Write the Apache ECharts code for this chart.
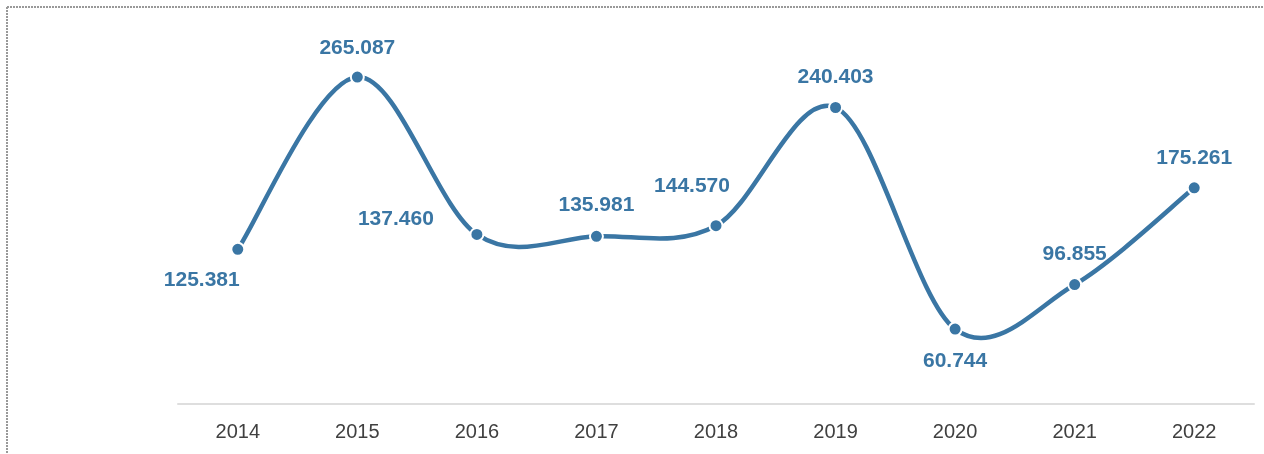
<!DOCTYPE html>
<html>
<head>
<meta charset="utf-8">
<script src="https://cdn.jsdelivr.net/npm/echarts@6/dist/echarts.min.js"></script>
<style>
html,body{margin:0;padding:0;background:#fff;}
#c{width:1264px;height:454px;}
</style>
</head>
<body>
<div id="c"></div>
<script>
var categories = ['2014','2015','2016','2017','2018','2019','2020','2021','2022'];
var values = [125.381, 265.087, 137.460, 135.981, 144.570, 240.403, 60.744, 96.855, 175.261];
var labelOffsets = [[-36,31],[0,-29],[-81,-15],[0,-31],[-24,-39],[0,-30],[0,32],[0,-30],[0,-30]];

var color = '#3a76a4';
var chart = echarts.init(document.getElementById('c'));

function renderSpline(params, api) {
  var i = params.dataIndex;
  var n = values.length;
  if (i >= n - 1) return null;
  function pt(k) {
    k = Math.max(0, Math.min(n - 1, k));
    return api.coord([k, values[k]]);
  }
  var p0 = pt(i - 1), p1 = pt(i), p2 = pt(i + 1), p3 = pt(i + 2);
  return {
    type: 'bezierCurve',
    shape: {
      x1: p1[0], y1: p1[1],
      x2: p2[0], y2: p2[1],
      cpx1: p1[0] + (p2[0] - p0[0]) / 6,
      cpy1: p1[1] + (p2[1] - p0[1]) / 6,
      cpx2: p2[0] - (p3[0] - p1[0]) / 6,
      cpy2: p2[1] - (p3[1] - p1[1]) / 6
    },
    style: {stroke: color, lineWidth: 4.5, fill: null, lineCap: 'round'}
  };
}

chart.setOption({
  animation: false,
  grid: {left: 178, right: 10, top: 34, bottom: 50},
  graphic: [
    {type:'line', shape:{x1:7,y1:7,x2:1264,y2:7}, style:{stroke:'#999999', lineWidth:2, lineDash:[2,1]}, silent:true},
    {type:'line', shape:{x1:7,y1:7,x2:7,y2:454}, style:{stroke:'#999999', lineWidth:2, lineDash:[2,1]}, silent:true}
  ],
  xAxis: {
    type: 'category',
    data: categories,
    boundaryGap: true,
    axisLine: {show: true, lineStyle: {color: '#dedede', width: 2}},
    axisTick: {show: false},
    axisLabel: {color: '#404040', fontSize: 20, fontFamily: 'Liberation Sans, Arial, sans-serif', margin: 18}
  },
  yAxis: {
    type: 'value', min: 0, max: 300,
    show: false
  },
  series: [{
    type: 'custom',
    renderItem: renderSpline,
    data: values.map(function(v, i){ return [i, v]; }),
    encode: {x: 0, y: 1},
    z: 1,
    silent: true
  }, {
    type: 'line',
    z: 2,
    data: values.map(function(v, i){
      return {value: v, label: {offset: labelOffsets[i]}};
    }),
    symbol: 'circle',
    symbolSize: 13,
    lineStyle: {opacity: 0},
    itemStyle: {color: color, borderColor: '#fff', borderWidth: 2},
    label: {
      show: true,
      position: 'inside',
      color: color,
      fontSize: 21,
      fontWeight: 'bold',
      fontFamily: 'Liberation Sans, Arial, sans-serif',
      formatter: function(p){ return p.value.toFixed(3); }
    }
  }]
});
</script>
</body>
</html>
